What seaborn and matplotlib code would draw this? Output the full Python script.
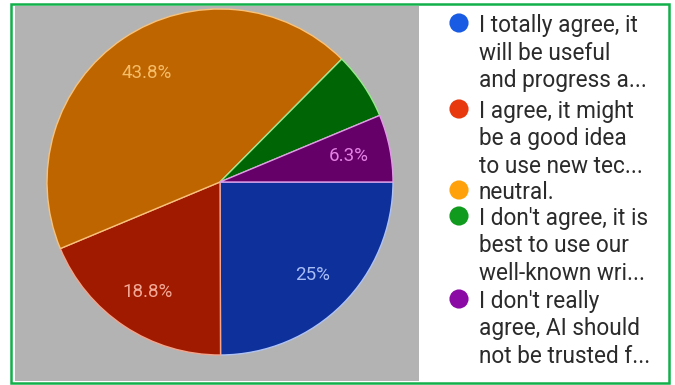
import matplotlib
matplotlib.use("Agg")
from matplotlib import pyplot as plt
from matplotlib.patches import Rectangle
import seaborn as sns

# survey answers (share of responses, %)
answers = [
    "I totally agree, it\nwill be useful\nand progress a...",
    "I agree, it might\nbe a good idea\nto use new tec...",
    "neutral.",
    "I don't agree, it is\nbest to use our\nwell-known wri...",
    "I don't really\nagree, AI should\nnot be trusted f...",
]
shares = [25, 18.8, 43.8, 6.3, 6.3]
pct_labels = ["25%", "18.8%", "43.8%", "", "6.3%"]

slice_colors = ["#0E309B", "#A01A00", "#BE6500", "#006505", "#640068"]
edge_colors = ["#AFC3F5", "#F5A48C", "#F8C27A", "#9BE88F", "#E09BE6"]
label_colors = ["#A8BDF5", "#F2A896", "#F6BC66", "#9BE88F", "#E482E4"]
legend_colors = ["#1A5BE3", "#E8380D", "#FFA10A", "#109A1E", "#8B0AA6"]

sns.set_theme(style="white")
plt.rcParams['font.family'] = ['Roboto', 'DejaVu Sans']

W, H = 675, 385
fig = plt.figure(figsize=(W / 100, H / 100), dpi=100)
fig.patch.set_facecolor("white")

# gray panel behind the pie and green frame round everything
fig.patches.append(Rectangle((15 / W, (H - 381) / H), (419 - 15) / W, (381 - 6) / H,
                             transform=fig.transFigure, facecolor="#B3B3B3",
                             edgecolor="none", zorder=-5))
fig.patches.append(Rectangle((11 / W, (H - 383) / H), (669 - 11) / W, (383 - 4) / H,
                             transform=fig.transFigure, facecolor="none",
                             edgecolor="#12B04A", linewidth=1.8, zorder=5))

cx, cy, r = 220, 182, 173
ax = fig.add_axes([(cx - r) / W, (H - cy - r) / H, 2 * r / W, 2 * r / H])
ax.patch.set_alpha(0)
wedges, texts, autotexts = ax.pie(
    shares, colors=slice_colors, startangle=0, counterclock=False,
    labels=None, autopct=lambda p: "", pctdistance=0.76,
    wedgeprops=dict(linewidth=1.0))
for w, ec in zip(wedges, edge_colors):
    w.set_edgecolor(ec)
for t, lab, c in zip(autotexts, pct_labels, label_colors):
    t.set_text(lab)
    t.set_color(c)
    t.set_fontsize(13.5)
ax.set_xlim(-1, 1)
ax.set_ylim(-1, 1)
ax.set_aspect("equal")
ax.axis("off")

# legend on the right, one dot per answer
lax = fig.add_axes([0, 0, 1, 1])
lax.patch.set_alpha(0)
lax.set_xlim(0, W)
lax.set_ylim(H, 0)
lax.axis("off")
legend_y = [23, 109, 190, 216, 299]
for text, c, y in zip(answers, legend_colors, legend_y):
    lax.scatter([459], [y], s=190, color=c, marker="o", edgecolors="none")
    lax.text(479, y - 9, text, fontsize=16.3, color="#2B2B2B", va="top",
             ha="left", linespacing=1.25)

fig.savefig("out.png", dpi=100)
